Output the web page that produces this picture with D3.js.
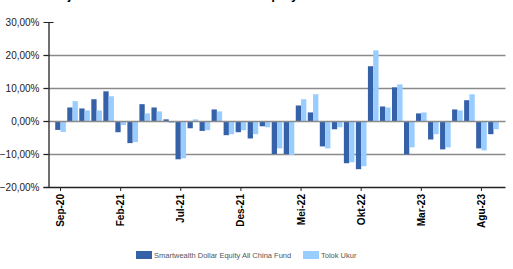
<!DOCTYPE html>
<html>
<head>
<meta charset="utf-8">
<script src="https://cdn.jsdelivr.net/npm/d3@7"></script>
<style>
  html, body { margin: 0; padding: 0; background: #fff; }
  svg { display: block; font-family: Arial, "Liberation Sans", sans-serif; }
</style>
</head>
<body>
<svg id="chart" width="513" height="269"></svg>
<script>
// bulan, Sep-20 .. Sep-23
const months = ["Sep-20","Okt-20","Nov-20","Des-20","Jan-21","Feb-21","Mar-21","Apr-21","Mei-21","Jun-21",
  "Jul-21","Agu-21","Sep-21","Okt-21","Nov-21","Des-21","Jan-22","Feb-22","Mar-22","Apr-22",
  "Mei-22","Jun-22","Jul-22","Agu-22","Sep-22","Okt-22","Nov-22","Des-22","Jan-23","Feb-23",
  "Mar-23","Apr-23","Mei-23","Jun-23","Jul-23","Agu-23","Sep-23"];
const fund = [-2.7, 4.1, 3.8, 6.6, 9.0, -3.4, -6.7, 5.1, 4.1, 0.5,
  -11.6, -2.2, -3.0, 3.5, -4.3, -3.4, -5.3, -1.6, -10.0, -10.0,
  4.7, 2.6, -7.7, -2.5, -12.8, -14.6, 16.6, 4.4, 10.2, -10.1,
  2.3, -5.6, -8.6, 3.5, 6.3, -8.3, -4.0];
const bench = [-3.3, 6.0, 3.2, 3.2, 7.5, -1.2, -6.4, 2.3, 2.9, -0.6,
  -11.3, 0.5, -2.8, 2.9, -4.0, -2.8, -4.0, -1.9, -8.3, -10.3,
  6.6, 8.1, -8.3, -1.9, -12.5, -13.7, 21.4, 4.1, 11.1, -8.0,
  2.6, -4.0, -8.0, 3.2, 8.1, -8.9, -2.5];
const tickLabels = ["Sep-20","Feb-21","Jul-21","Des-21","Mei-22","Okt-22","Mar-23","Agu-23"];
const yTicks = [30, 20, 10, 0, -10, -20];
const seriesNames = ["Smartwealth Dollar Equity All China Fund", "Tolok Ukur"];
const colors = ["#3561a9", "#99ccff"];

const svg = d3.select("#chart");
const plotL = 48.5, plotR = 505.5, plotT = 22, plotB = 187;

const x = d3.scaleBand().domain(months).range([plotL, plotR]).paddingInner(0).paddingOuter(0.5);
const y = d3.scaleLinear().domain([-20, 30]).range([plotB, plotT]);
const barW = x.step() * 0.44;
const fmt = v => d3.format(".2f")(v).replace(".", ",") + "%";

// judul (terpotong di atas, seperti di gambar asli)
svg.append("text")
  .attr("x", 258).attr("y", -1)
  .attr("text-anchor", "middle")
  .style("font-size", "13px").style("font-weight", "bold")
  .text("Kinerja Bulanan Smartwealth Dollar Equity All China Fund vs Tolok Ukur");

// gridlines
svg.append("g").selectAll("line")
  .data(yTicks.filter(d => d !== 30 && d !== -20 && d !== 0))
  .join("line")
  .attr("x1", plotL - 5).attr("x2", plotR)
  .attr("y1", d => Math.round(y(d)) + 0.5).attr("y2", d => Math.round(y(d)) + 0.5)
  .attr("stroke", "#8a8a8a").attr("stroke-width", 1.3);

// bars
const g = svg.append("g");
g.selectAll("rect.fund").data(fund).join("rect")
  .attr("class", "fund")
  .attr("x", (d, i) => x(months[i]) + x.bandwidth() / 2 - barW)
  .attr("width", barW)
  .attr("y", d => y(Math.max(0, d)))
  .attr("height", d => Math.abs(y(d) - y(0)))
  .attr("fill", colors[0]);
g.selectAll("rect.bench").data(bench).join("rect")
  .attr("class", "bench")
  .attr("x", (d, i) => x(months[i]) + x.bandwidth() / 2)
  .attr("width", barW)
  .attr("y", d => y(Math.max(0, d)))
  .attr("height", d => Math.abs(y(d) - y(0)))
  .attr("fill", colors[1]);

// garis nol
svg.append("line")
  .attr("x1", plotL - 5).attr("x2", plotR)
  .attr("y1", Math.round(y(0)) + 0.5).attr("y2", Math.round(y(0)) + 0.5)
  .attr("stroke", "#8a8a8a").attr("stroke-width", 1.3);

// sumbu y
const yAxis = svg.append("g").attr("transform", `translate(${plotL},0)`)
  .call(d3.axisLeft(y).tickValues(yTicks).tickSize(5).tickFormat(fmt));
yAxis.select(".domain").attr("stroke", "#222").attr("stroke-width", 1.3).attr("d", `M0.5,${plotT}V${plotB}`);
yAxis.selectAll(".tick line").attr("stroke", "#222");
yAxis.selectAll(".tick").filter(d => d === 30).select("line").attr("x1", 5);
yAxis.selectAll(".tick text").attr("x", -9).style("font-size", "10px").attr("fill", "#222").attr("font-family", null);

// sumbu x
const xAxis = svg.append("g").attr("transform", `translate(0,${plotB})`)
  .call(d3.axisBottom(x).tickValues(tickLabels).tickSize(4).tickSizeOuter(0));
xAxis.select(".domain").attr("stroke", "#222").attr("stroke-width", 1.3).attr("d", `M${plotL - 5},0.5H${plotR}`);
xAxis.selectAll(".tick line").attr("stroke", "#222");
xAxis.selectAll(".tick text")
  .attr("transform", "rotate(-90)")
  .attr("x", -7).attr("y", 0).attr("dy", "0.35em")
  .attr("text-anchor", "end")
  .style("font-size", "10px").style("font-weight", "bold")
  .attr("fill", "#000").attr("font-family", null);

// legenda
const legendX = [136, 303];
const lg = svg.append("g");
seriesNames.forEach((name, i) => {
  lg.append("rect").attr("x", legendX[i]).attr("y", 251).attr("width", 16).attr("height", 8).attr("fill", colors[i]);
  lg.append("text").attr("x", legendX[i] + 18).attr("y", 258)
    .style("font-size", "7.5px").attr("fill", "#555").text(name);
});
</script>
</body>
</html>
